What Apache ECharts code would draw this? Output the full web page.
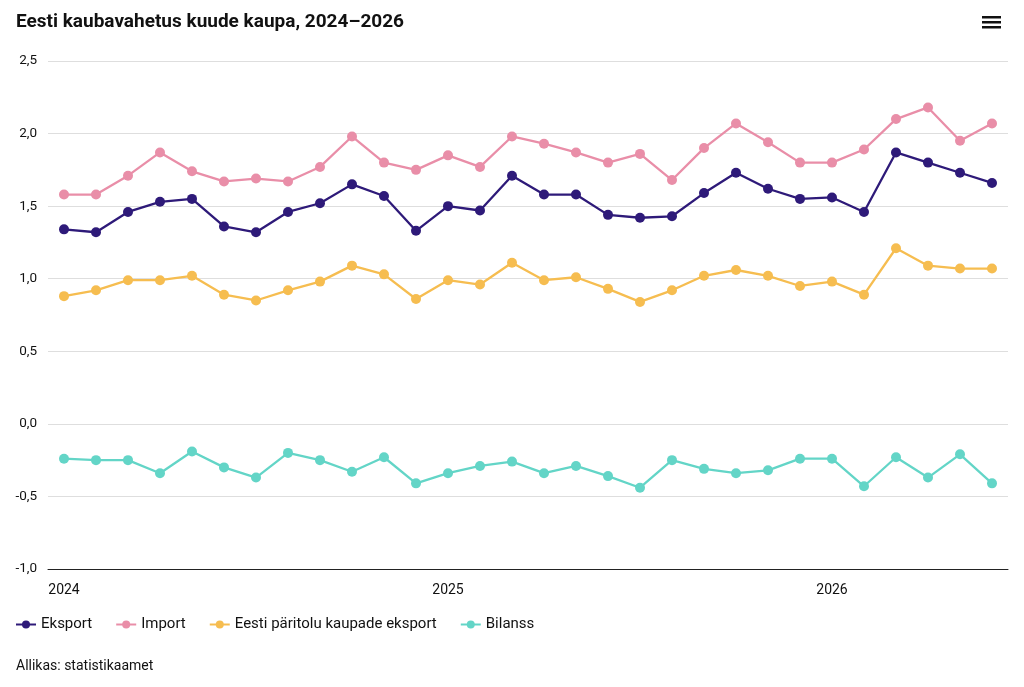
<!DOCTYPE html>
<html>
<head>
<meta charset="utf-8">
<script src="https://cdn.jsdelivr.net/npm/echarts@6/dist/echarts.min.js"></script>
<style>
html,body{margin:0;padding:0;background:#fff;}
#chart{width:1024px;height:687px;}
</style>
</head>
<body>
<div id="chart"></div>
<script>
const months = [
  "2024-01","2024-02","2024-03","2024-04","2024-05","2024-06","2024-07","2024-08","2024-09","2024-10","2024-11","2024-12",
  "2025-01","2025-02","2025-03","2025-04","2025-05","2025-06","2025-07","2025-08","2025-09","2025-10","2025-11","2025-12",
  "2026-01","2026-02","2026-03","2026-04","2026-05","2026-06"
];
const eksport = [1.34,1.32,1.46,1.53,1.55,1.36,1.32,1.46,1.52,1.65,1.57,1.33,1.50,1.47,1.71,1.58,1.58,1.44,1.42,1.43,1.59,1.73,1.62,1.55,1.56,1.46,1.87,1.80,1.73,1.66];
const importData = [1.58,1.58,1.71,1.87,1.74,1.67,1.69,1.67,1.77,1.98,1.80,1.75,1.85,1.77,1.98,1.93,1.87,1.80,1.86,1.68,1.90,2.07,1.94,1.80,1.80,1.89,2.10,2.18,1.95,2.07];
const eestiPaaritolu = [0.88,0.92,0.99,0.99,1.02,0.89,0.85,0.92,0.98,1.09,1.03,0.86,0.99,0.96,1.11,0.99,1.01,0.93,0.84,0.92,1.02,1.06,1.02,0.95,0.98,0.89,1.21,1.09,1.07,1.07];
const bilanss = [-0.24,-0.25,-0.25,-0.34,-0.19,-0.30,-0.37,-0.20,-0.25,-0.33,-0.23,-0.41,-0.34,-0.29,-0.26,-0.34,-0.29,-0.36,-0.44,-0.25,-0.31,-0.34,-0.32,-0.24,-0.24,-0.43,-0.23,-0.37,-0.21,-0.41];
const seriesNames = ["Eksport","Import","Eesti päritolu kaupade eksport","Bilanss"];
const colors = ["#2e1a79","#e98ea8","#f6bd50","#63d5c7"];

const chart = echarts.init(document.getElementById('chart'));
const font = 'Roboto, "Noto Sans", sans-serif';
const allData = [eksport, importData, eestiPaaritolu, bilanss];
chart.setOption({
  animation: false,
  textStyle: {fontFamily: font},
  title: {
    text: "Eesti kaubavahetus kuude kaupa, 2024–2026",
    left: 16, top: 13, padding: 0,
    textStyle: {fontFamily: font, fontSize: 19, fontWeight: 'bold', color: '#111'}
  },
  graphic: [
    {type:'rect', left: 982, top: 16, shape:{width:19, height:2.5}, style:{fill:'#111'}},
    {type:'rect', left: 982, top: 21, shape:{width:19, height:2.5}, style:{fill:'#111'}},
    {type:'rect', left: 982, top: 26, shape:{width:19, height:2.5}, style:{fill:'#111'}},
    {type:'text', left: 16, top: 659, style:{text:'Allikas: statistikaamet', font: '14px ' + font, fill:'#111'}}
  ],
  legend: {
    left: 10, top: 612,
    itemWidth: 20, itemHeight: 10, itemGap: 23,
    textStyle: {fontFamily: font, fontSize: 15, color: '#111'},
    data: seriesNames
  },
  grid: {left: 48, right: 16, top: 61, bottom: 118},
  xAxis: {
    type: 'category',
    data: months,
    boundaryGap: true,
    axisLine: {show: true, onZero: false, lineStyle: {color: '#222', width: 1}},
    axisTick: {show: false},
    axisLabel: {
      interval: 0,
      margin: 14,
      fontSize: 14,
      color: '#111',
      fontFamily: font,
      formatter: function (v) { return v.slice(5) === '01' ? v.slice(0, 4) : ''; }
    },
    splitLine: {show: false}
  },
  yAxis: {
    type: 'value',
    min: -1, max: 2.5, interval: 0.5,
    axisLine: {show: false},
    axisTick: {show: false},
    axisLabel: {
      fontSize: 13.5, color: '#111', fontFamily: font, margin: 11,
      formatter: function (v) { return v.toFixed(1).replace('.', ','); }
    },
    splitLine: {lineStyle: {color: '#dedede', width: 1}}
  },
  series: seriesNames.map(function (name, i) {
    return {
      name: name,
      type: 'line',
      data: allData[i],
      color: colors[i],
      symbol: 'circle',
      symbolSize: 10,
      lineStyle: {width: 2.3},
      itemStyle: {color: colors[i]}
    };
  })
});
</script>
</body>
</html>
